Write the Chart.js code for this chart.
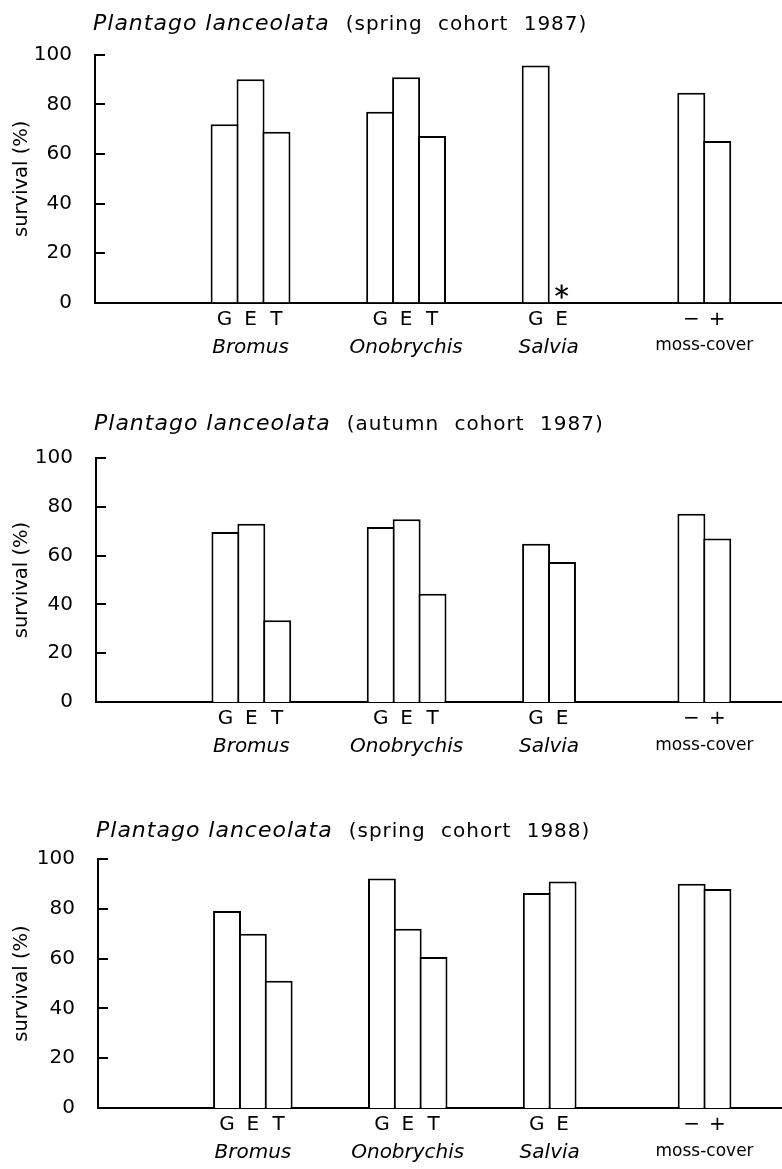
<!DOCTYPE html>
<html>
<head>
<meta charset="utf-8">
<title>Plantago lanceolata survival</title>
<script src="https://cdn.jsdelivr.net/npm/chart.js@4.4.0/dist/chart.umd.min.js"></script>
<style>
  html, body { margin: 0; padding: 0; background: #fff; }
  #page { position: relative; width: 782px; height: 1169px; overflow: hidden; font-family: "DejaVu Sans", sans-serif; color: #000; }
  .panel { position: absolute; left: 0; width: 782px; }
  .panel canvas { position: absolute; left: 0; top: 0; }
  .ttl { position: absolute; white-space: nowrap; height: 30px; line-height: 30px; }
  .ttl .sp { font-style: italic; font-size: 22px; letter-spacing: 1px; }
  .ttl .co { font-size: 20px; letter-spacing: 1px; word-spacing: 8px; margin-left: 16px; }
</style>
</head>
<body>
<div id="page"></div>
<script>
// ---- data ----
const species = 'Plantago lanceolata';
const cohorts = ['(spring cohort 1987)', '(autumn cohort 1987)', '(spring cohort 1988)'];
const groups = ['Bromus', 'Onobrychis', 'Salvia', 'moss-cover'];
const treatments = [['G', 'E', 'T'], ['G', 'E', 'T'], ['G', 'E'], ['\u2212', '+']];
const yTicks = [0, 20, 40, 60, 80, 100];

// survival (%) per bar, in order of treatments; null = no survivors (*)
const spring1987 = [72.0, 90.2, 69.0, 77.1, 91.0, 67.3, 95.8, null, 84.7, 65.3];
const autumn1987 = [69.7, 73.1, 33.5, 71.7, 74.9, 44.4, 64.9, 57.4, 77.2, 67.0];
const spring1988 = [79.1, 70.0, 51.1, 92.2, 72.0, 60.6, 86.3, 91.0, 90.1, 88.0];

// ---- layout ----
const FONT = '"DejaVu Sans", sans-serif';
const FIRST_SLOT = 5, GROUP_STEP = 6, X_MAX = 26.5;

const panels = [
  { values: spring1987, top: 0,   height: 390, axisX: 95, chartTop: 55, chartBottom: 302.5, titleY: 23 },
  { values: autumn1987, top: 390, height: 390, axisX: 96, chartTop: 68, chartBottom: 312,   titleY: 33 },
  { values: spring1988, top: 780, height: 389, axisX: 98, chartTop: 79, chartBottom: 328,   titleY: 50 }
];

const slots = [], letters = [], centers = [];
treatments.forEach((tr, g) => {
  tr.forEach((t, k) => { slots.push(FIRST_SLOT + GROUP_STEP * g + k); letters.push(t); });
  centers.push(FIRST_SLOT + GROUP_STEP * g + (tr.length - 1) / 2);
});

// inward y ticks + asterisk where a bar is missing
const decor = {
  id: 'decor',
  afterDraw(chart) {
    const { ctx, chartArea, scales: { x, y } } = chart;
    ctx.save();
    ctx.strokeStyle = '#000';
    ctx.lineWidth = 2;
    yTicks.forEach(v => {
      const py = Math.round(y.getPixelForValue(v));
      ctx.beginPath();
      ctx.moveTo(chartArea.left, py);
      ctx.lineTo(chartArea.left + 10, py);
      ctx.stroke();
    });
    chart.data.datasets[0].data.forEach(d => {
      if (d.y !== null) return;
      const cx = x.getPixelForValue(d.x);
      const cy = y.getPixelForValue(0) - 11;
      const r = 7;
      [90, 30, 150].forEach(a => {
        const dx = Math.cos(a * Math.PI / 180) * r, dy = Math.sin(a * Math.PI / 180) * r;
        ctx.beginPath();
        ctx.moveTo(cx - dx, cy - dy);
        ctx.lineTo(cx + dx, cy + dy);
        ctx.stroke();
      });
    });
    ctx.restore();
  }
};

const page = document.getElementById('page');

panels.forEach((p, i) => {
  const wrap = document.createElement('div');
  wrap.className = 'panel';
  wrap.style.top = p.top + 'px';
  wrap.style.height = p.height + 'px';

  const ttl = document.createElement('div');
  ttl.className = 'ttl';
  ttl.style.left = (p.axisX - 2) + 'px';
  ttl.style.top = (p.titleY - 15) + 'px';
  ttl.innerHTML = `<span class="sp">${species}</span><span class="co">${cohorts[i]}</span>`;

  const cv = document.createElement('canvas');
  cv.width = 782;
  cv.height = p.height;
  wrap.appendChild(cv);
  wrap.appendChild(ttl);
  page.appendChild(wrap);

  new Chart(cv.getContext('2d'), {
    type: 'bar',
    data: {
      datasets: [{
        data: slots.map((s, k) => ({ x: s, y: p.values[k] })),
        backgroundColor: '#fff',
        borderColor: '#000',
        borderWidth: 2,
        borderSkipped: 'start',
        barPercentage: 1.08,
        categoryPercentage: 1.0,
        xAxisID: 'x',
        yAxisID: 'y'
      }]
    },
    options: {
      responsive: false,
      animation: false,
      events: [],
      layout: { padding: { top: p.chartTop, right: 0, left: 0, bottom: p.height - p.chartBottom - 58 } },
      plugins: { legend: { display: false }, tooltip: { enabled: false }, title: { display: false } },
      scales: {
        x: {
          type: 'linear', position: 'bottom', min: 0, max: X_MAX, weight: 0, z: 1, offset: false,
          grid: { display: false, drawTicks: false, offset: false },
          border: { display: true, color: '#000', width: 2 },
          afterBuildTicks: s => { s.ticks = slots.map(v => ({ value: v })); },
          ticks: {
            autoSkip: false, maxRotation: 0, padding: 5, color: '#000',
            font: { family: FONT, size: 20 },
            callback: (v, k) => letters[k]
          },
          afterFit: s => { s.height = 28; }
        },
        x2: {
          type: 'linear', position: 'bottom', min: 0, max: X_MAX, weight: 1, offset: false,
          grid: { display: false, drawTicks: false, offset: false },
          border: { display: false },
          afterBuildTicks: s => { s.ticks = centers.map(v => ({ value: v })); },
          ticks: {
            autoSkip: false, maxRotation: 0, padding: 5, color: '#000',
            font: c => (c.index < 3
              ? { family: FONT, size: 20, style: 'italic' }
              : { family: FONT, size: 17 }),
            callback: (v, k) => groups[k]
          },
          afterFit: s => { s.height = 30; }
        },
        y: {
          type: 'linear', position: 'left', min: 0, max: 100, z: 1,
          grid: { display: false, drawTicks: false },
          border: { display: true, color: '#000', width: 2 },
          afterBuildTicks: s => { s.ticks = yTicks.map(v => ({ value: v })); },
          ticks: { padding: 23, color: '#000', font: { family: FONT, size: 20 } },
          title: {
            display: true, text: 'survival (%)', color: '#000',
            font: { family: FONT, size: 19.5 }, padding: { top: 10, bottom: 0 }
          },
          afterFit: s => { s.width = p.axisX; }
        }
      }
    },
    plugins: [decor]
  });
});
</script>
</body>
</html>
